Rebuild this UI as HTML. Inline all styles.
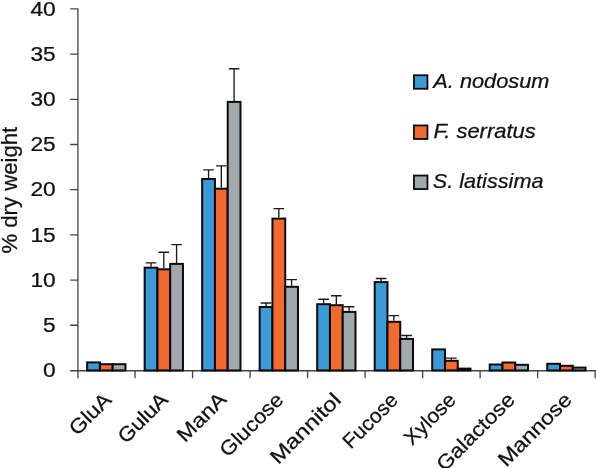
<!DOCTYPE html><html><head><meta charset="utf-8"><title>Chart</title><style>html,body{margin:0;padding:0;background:#fff}svg{display:block}text{font-family:"Liberation Sans", sans-serif;fill:#111;stroke:#111;stroke-width:0.25px}</style></head><body>
<svg width="596" height="468" viewBox="0 0 596 468">
<rect width="596" height="468" fill="#fff"/>
<path d="M77.9 8.3V378.2M70.2 325.26H77.9M70.2 280.06H77.9M70.2 234.87H77.9M70.2 189.67H77.9M70.2 144.48H77.9M70.2 99.29H77.9M70.2 54.09H77.9M70.2 8.90H77.9M70.2 370.75H596M135.06 370.45V378.2M192.57 370.45V378.2M250.08 370.45V378.2M307.59 370.45V378.2M365.10 370.45V378.2M422.61 370.45V378.2M480.12 370.45V378.2M537.63 370.45V378.2M595.14 370.45V378.2" fill="none" stroke="#444" stroke-width="1.3"/>
<rect x="87.15" y="362.40" width="12.77" height="8.05" fill="#3d9ad8" stroke="#0a0a0a" stroke-width="2.0"/>
<rect x="144.66" y="267.70" width="12.77" height="102.75" fill="#3d9ad8" stroke="#0a0a0a" stroke-width="2.0"/>
<rect x="202.17" y="179.00" width="12.77" height="191.45" fill="#3d9ad8" stroke="#0a0a0a" stroke-width="2.0"/>
<rect x="259.68" y="307.00" width="12.77" height="63.45" fill="#3d9ad8" stroke="#0a0a0a" stroke-width="2.0"/>
<rect x="317.19" y="304.20" width="12.77" height="66.25" fill="#3d9ad8" stroke="#0a0a0a" stroke-width="2.0"/>
<rect x="374.70" y="282.10" width="12.77" height="88.35" fill="#3d9ad8" stroke="#0a0a0a" stroke-width="2.0"/>
<rect x="432.21" y="349.40" width="12.77" height="21.05" fill="#3d9ad8" stroke="#0a0a0a" stroke-width="2.0"/>
<rect x="489.72" y="364.50" width="12.77" height="5.95" fill="#3d9ad8" stroke="#0a0a0a" stroke-width="2.0"/>
<rect x="547.23" y="363.80" width="12.77" height="6.65" fill="#3d9ad8" stroke="#0a0a0a" stroke-width="2.0"/>
<path d="M151.04 266.70V262.90M145.74 262.90H156.34" fill="none" stroke="#1a1a1a" stroke-width="1.35"/>
<path d="M208.55 178.00V169.80M203.25 169.80H213.85" fill="none" stroke="#1a1a1a" stroke-width="1.35"/>
<path d="M266.06 306.00V303.00M260.76 303.00H271.36" fill="none" stroke="#1a1a1a" stroke-width="1.35"/>
<path d="M323.57 303.20V299.20M318.27 299.20H328.87" fill="none" stroke="#1a1a1a" stroke-width="1.35"/>
<path d="M381.08 281.10V278.50M375.78 278.50H386.38" fill="none" stroke="#1a1a1a" stroke-width="1.35"/>
<rect x="99.92" y="364.20" width="12.77" height="6.25" fill="#f26a2d" stroke="#0a0a0a" stroke-width="2.0"/>
<rect x="157.43" y="269.30" width="12.77" height="101.15" fill="#f26a2d" stroke="#0a0a0a" stroke-width="2.0"/>
<rect x="214.94" y="188.70" width="12.77" height="181.75" fill="#f26a2d" stroke="#0a0a0a" stroke-width="2.0"/>
<rect x="272.45" y="218.60" width="12.77" height="151.85" fill="#f26a2d" stroke="#0a0a0a" stroke-width="2.0"/>
<rect x="329.96" y="305.20" width="12.77" height="65.25" fill="#f26a2d" stroke="#0a0a0a" stroke-width="2.0"/>
<rect x="387.47" y="321.80" width="12.77" height="48.65" fill="#f26a2d" stroke="#0a0a0a" stroke-width="2.0"/>
<rect x="444.98" y="360.80" width="12.77" height="9.65" fill="#f26a2d" stroke="#0a0a0a" stroke-width="2.0"/>
<rect x="502.49" y="362.50" width="12.77" height="7.95" fill="#f26a2d" stroke="#0a0a0a" stroke-width="2.0"/>
<rect x="560.00" y="365.80" width="12.77" height="4.65" fill="#f26a2d" stroke="#0a0a0a" stroke-width="2.0"/>
<path d="M163.81 268.30V252.20M158.51 252.20H169.11" fill="none" stroke="#1a1a1a" stroke-width="1.35"/>
<path d="M221.32 187.70V165.90M216.02 165.90H226.62" fill="none" stroke="#1a1a1a" stroke-width="1.35"/>
<path d="M278.83 217.60V208.60M273.53 208.60H284.13" fill="none" stroke="#1a1a1a" stroke-width="1.35"/>
<path d="M336.34 304.20V295.70M331.04 295.70H341.64" fill="none" stroke="#1a1a1a" stroke-width="1.35"/>
<path d="M393.85 320.80V315.60M388.55 315.60H399.15" fill="none" stroke="#1a1a1a" stroke-width="1.35"/>
<path d="M451.36 359.80V358.10M446.06 358.10H456.66" fill="none" stroke="#1a1a1a" stroke-width="1.35"/>
<rect x="112.68" y="364.20" width="12.77" height="6.25" fill="#a1a9ad" stroke="#0a0a0a" stroke-width="2.0"/>
<rect x="170.19" y="263.90" width="12.77" height="106.55" fill="#a1a9ad" stroke="#0a0a0a" stroke-width="2.0"/>
<rect x="227.70" y="101.90" width="12.77" height="268.55" fill="#a1a9ad" stroke="#0a0a0a" stroke-width="2.0"/>
<rect x="285.21" y="286.80" width="12.77" height="83.65" fill="#a1a9ad" stroke="#0a0a0a" stroke-width="2.0"/>
<rect x="342.72" y="311.90" width="12.77" height="58.55" fill="#a1a9ad" stroke="#0a0a0a" stroke-width="2.0"/>
<rect x="400.23" y="338.90" width="12.77" height="31.55" fill="#a1a9ad" stroke="#0a0a0a" stroke-width="2.0"/>
<rect x="457.74" y="368.60" width="12.77" height="1.85" fill="#a1a9ad" stroke="#0a0a0a" stroke-width="2.0"/>
<rect x="515.25" y="364.80" width="12.77" height="5.65" fill="#a1a9ad" stroke="#0a0a0a" stroke-width="2.0"/>
<rect x="572.76" y="367.60" width="12.77" height="2.85" fill="#a1a9ad" stroke="#0a0a0a" stroke-width="2.0"/>
<path d="M176.58 262.90V244.60M171.28 244.60H181.88" fill="none" stroke="#1a1a1a" stroke-width="1.35"/>
<path d="M234.09 100.90V68.70M228.79 68.70H239.39" fill="none" stroke="#1a1a1a" stroke-width="1.35"/>
<path d="M291.60 285.80V279.60M286.30 279.60H296.90" fill="none" stroke="#1a1a1a" stroke-width="1.35"/>
<path d="M349.11 310.90V306.70M343.81 306.70H354.41" fill="none" stroke="#1a1a1a" stroke-width="1.35"/>
<path d="M406.62 337.90V335.50M401.32 335.50H411.92" fill="none" stroke="#1a1a1a" stroke-width="1.35"/>
<rect x="413.95" y="75.25" width="13.5" height="13.5" fill="#3d9ad8" stroke="#0a0a0a" stroke-width="1.8"/>
<rect x="413.95" y="125.45" width="13.5" height="13.5" fill="#f26a2d" stroke="#0a0a0a" stroke-width="1.8"/>
<rect x="413.95" y="175.55" width="13.5" height="13.5" fill="#a1a9ad" stroke="#0a0a0a" stroke-width="1.8"/>
<text transform="translate(55.70 377.25) scale(1.1040 1)" font-size="20.60" text-anchor="end">0</text>
<text transform="translate(55.70 332.06) scale(1.1040 1)" font-size="20.60" text-anchor="end">5</text>
<text transform="translate(55.70 286.86) scale(1.1040 1)" font-size="20.60" text-anchor="end">10</text>
<text transform="translate(55.70 241.67) scale(1.1040 1)" font-size="20.60" text-anchor="end">15</text>
<text transform="translate(55.70 196.47) scale(1.1040 1)" font-size="20.60" text-anchor="end">20</text>
<text transform="translate(55.70 151.28) scale(1.1040 1)" font-size="20.60" text-anchor="end">25</text>
<text transform="translate(55.70 106.09) scale(1.1040 1)" font-size="20.60" text-anchor="end">30</text>
<text transform="translate(55.70 60.89) scale(1.1040 1)" font-size="20.60" text-anchor="end">35</text>
<text transform="translate(55.70 15.70) scale(1.1040 1)" font-size="20.60" text-anchor="end">40</text>
<text transform="translate(433.33 88.40) scale(1.0673 1)" font-size="20.40" text-anchor="start" font-style="italic">A. nodosum</text>
<text transform="translate(433.57 138.40) scale(1.0783 1)" font-size="20.40" text-anchor="start" font-style="italic">F. serratus</text>
<text transform="translate(432.68 188.40) scale(1.0631 1)" font-size="20.40" text-anchor="start" font-style="italic">S. latissima</text>
<text transform="translate(16.63 253.57) rotate(-90) scale(1.0085 1)" font-size="21.98" text-anchor="start">% dry weight</text>
<text transform="translate(112.57 401.08) rotate(-45) scale(1.1049 1)" font-size="20.40" text-anchor="end">GluA</text>
<text transform="translate(169.28 401.08) rotate(-45) scale(1.0833 1)" font-size="20.40" text-anchor="end">GuluA</text>
<text transform="translate(227.67 400.75) rotate(-45) scale(1.1294 1)" font-size="20.40" text-anchor="end">ManA</text>
<text transform="translate(284.70 401.07) rotate(-45) scale(1.0746 1)" font-size="20.40" text-anchor="end">Glucose</text>
<text transform="translate(342.23 401.22) rotate(-45) scale(1.1735 1)" font-size="20.40" text-anchor="end">Mannitol</text>
<text transform="translate(399.27 401.40) rotate(-45) scale(1.0244 1)" font-size="20.40" text-anchor="end">Fucose</text>
<text transform="translate(457.22 401.08) rotate(-45) scale(1.0432 1)" font-size="20.40" text-anchor="end">Xylose</text>
<text transform="translate(515.95 401.00) rotate(-45) scale(1.0968 1)" font-size="20.40" text-anchor="end">Galactose</text>
<text transform="translate(572.88 401.12) rotate(-45) scale(1.1228 1)" font-size="20.40" text-anchor="end">Mannose</text>
</svg></body></html>
